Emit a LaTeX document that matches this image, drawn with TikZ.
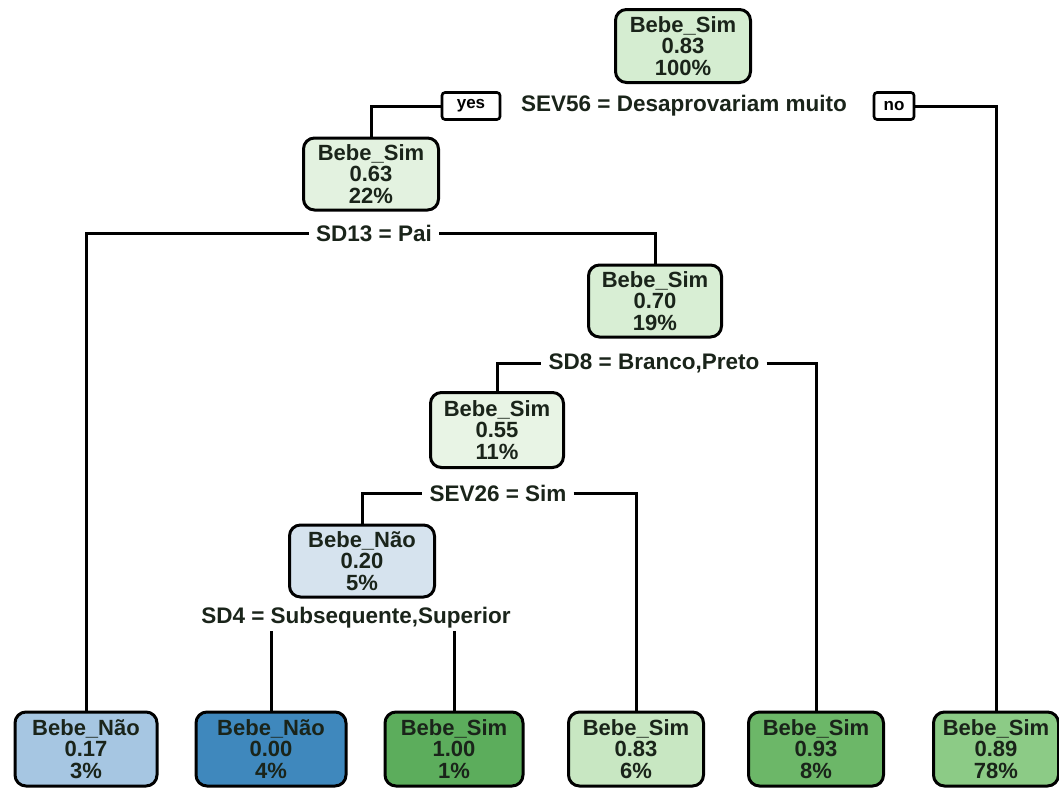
\documentclass[tikz,border=0pt]{standalone}
\usepackage{fontspec}
\setmainfont{Liberation Sans}
\definecolor{cRoot}{HTML}{D5EDD1}
\definecolor{cN2}{HTML}{E3F2E0}
\definecolor{cN3}{HTML}{D8EED4}
\definecolor{cN4}{HTML}{E8F4E5}
\definecolor{cN5}{HTML}{D6E3EE}
\definecolor{cL1}{HTML}{A6C6E2}
\definecolor{cL2}{HTML}{3F88BD}
\definecolor{cL3}{HTML}{5CAD5C}
\definecolor{cL4}{HTML}{C8E7C2}
\definecolor{cL5}{HTML}{6CB768}
\definecolor{cL6}{HTML}{8CCB86}
\definecolor{txt}{HTML}{1A241A}
\begin{document}
\begin{tikzpicture}[x=1pt,y=-1pt,
  box/.style={draw=black, line width=3pt, rounded corners=11pt, align=center,
    inner sep=0pt, minimum height=73pt, text=txt,
    font=\fontsize{22}{21.5}\selectfont\bfseries},
  leaf/.style={box, minimum height=74pt},
  lab/.style={fill=white, inner xsep=7pt, inner ysep=2pt, text=txt,
    font=\fontsize{22.5}{22}\selectfont\bfseries},
  yn/.style={draw=black, line width=2.6pt, rounded corners=3pt, minimum height=27pt,
    inner sep=2pt, font=\fontsize{17}{17}\selectfont\bfseries},
  edge/.style={draw=black, line width=3pt}]
\useasboundingbox (0,0) rectangle (1059,787);
\fill[white] (0,0) rectangle (1059,787);

\node[box, fill=cRoot, minimum width=135pt] (root) at (683,46) {Bebe\_Sim\\0.83\\100\%};
\node[yn, minimum width=58pt] (yes) at (471,106) {yes};
\node[lab] (s1) at (684,106) {SEV56 = Desaprovariam muito};
\node[yn, minimum width=40pt] (no) at (894,106) {no};

\node[box, fill=cN2, minimum width=135pt, minimum height=72pt] (n2) at (371,174) {Bebe\_Sim\\0.63\\22\%};
\node[lab] (s2) at (374,233) {SD13 = Pai};

\node[box, fill=cN3, minimum width=133pt, minimum height=72pt] (n3) at (655,301) {Bebe\_Sim\\0.70\\19\%};
\node[lab] (s3) at (654,363) {SD8 = Branco,Preto};

\node[box, fill=cN4, minimum width=133pt, minimum height=75pt] (n4) at (497,430) {Bebe\_Sim\\0.55\\11\%};
\node[lab] (s4) at (498,493) {SEV26 = Sim};

\node[box, fill=cN5, minimum width=145pt, minimum height=72pt] (n5) at (362,561) {Bebe\_Não\\0.20\\5\%};
\node[lab] (s5) at (356,618) {SD4 = Subsequente,Superior};

\node[leaf, fill=cL1, minimum width=142pt] (l1) at (86,749) {Bebe\_Não\\0.17\\3\%};
\node[leaf, fill=cL2, minimum width=150pt] (l2) at (271,749) {Bebe\_Não\\0.00\\4\%};
\node[leaf, fill=cL3, minimum width=138pt] (l3) at (454,749) {Bebe\_Sim\\1.00\\1\%};
\node[leaf, fill=cL4, minimum width=135pt] (l4) at (636,749) {Bebe\_Sim\\0.83\\6\%};
\node[leaf, fill=cL5, minimum width=135pt] (l5) at (816,749) {Bebe\_Sim\\0.93\\8\%};
\node[leaf, fill=cL6, minimum width=125pt] (l6) at (996,749) {Bebe\_Sim\\0.89\\78\%};

\draw[edge] (n2.north) |- (yes.west);
\draw[edge] (no.east) -| (l6.north);
\draw[edge] (l1.north) |- (s2.west);
\draw[edge] (s2.east) -| (n3.north);
\draw[edge] (n4.north) |- (s3.west);
\draw[edge] (s3.east) -| (l5.north);
\draw[edge] (n5.north) |- (s4.west);
\draw[edge] (s4.east) -| (l4.north);
\draw[edge] (l2.north) -- (l2.north |- s5.south);
\draw[edge] (l3.north) -- (l3.north |- s5.south);
\end{tikzpicture}
\end{document}
